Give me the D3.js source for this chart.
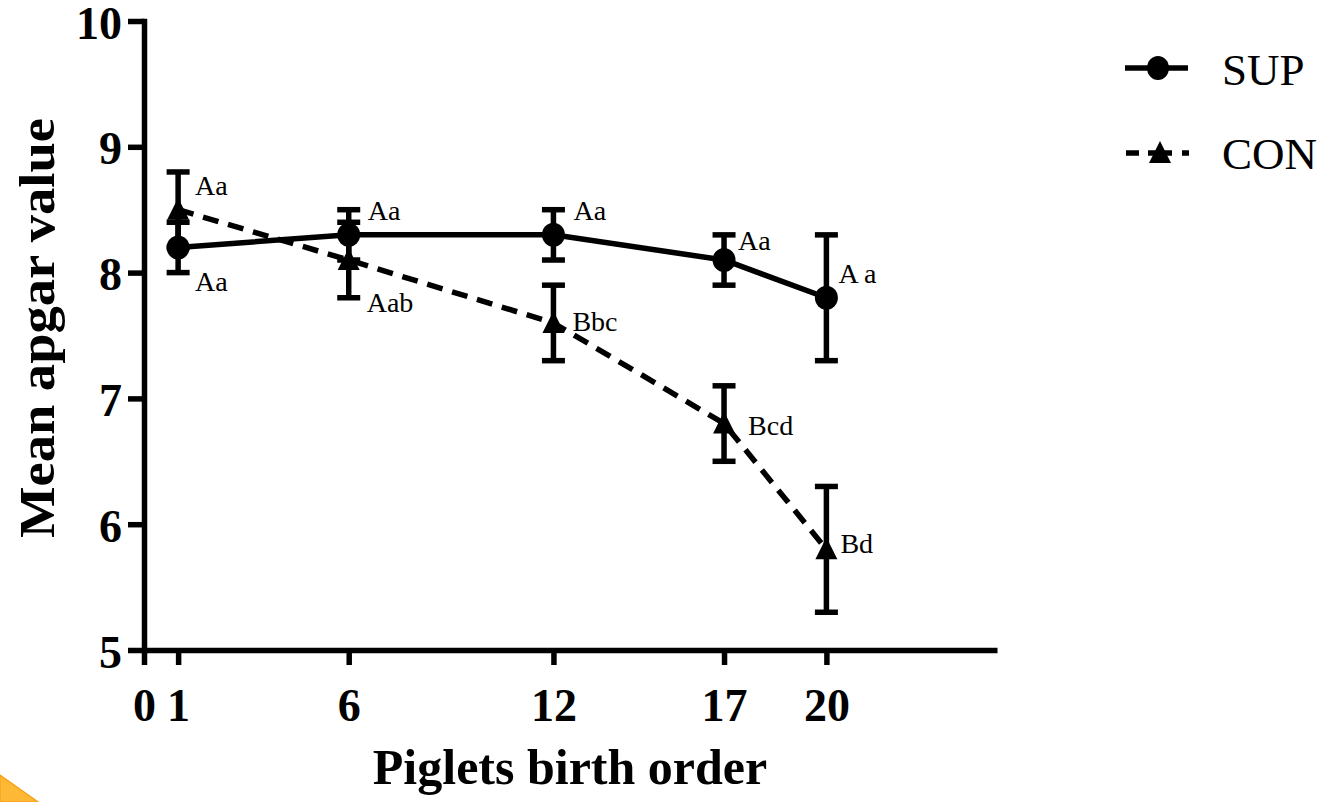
<!DOCTYPE html>
<html>
<head>
<meta charset="utf-8">
<script src="https://cdn.jsdelivr.net/npm/d3@7"></script>
<style>
  html, body { margin: 0; padding: 0; background: #fff; }
  svg { display: block; }
  text { font-family: "Liberation Serif", "Times New Roman", Times, serif; fill: #000; }
</style>
</head>
<body>
<svg id="chart" width="1322" height="802"></svg>
<script>
// Birth order positions sampled
const birthOrder = [1, 6, 12, 17, 20];

// Mean Apgar score and SD per group
const supMean = [8.2, 8.3, 8.3, 8.1, 7.8];
const supSD   = [0.2, 0.2, 0.2, 0.2, 0.5];
const conMean = [8.5, 8.1, 7.6, 6.8, 5.8];
const conSD   = [0.3, 0.3, 0.3, 0.3, 0.5];

// Significance letters
const supLetters = ["Aa", "Aa", "Aa", "Aa", "A a"];
const conLetters = ["Aa", "Aab", "Bbc", "Bcd", "Bd"];

// Axis ticks
const xTicks = [0, 1, 6, 12, 17, 20];
const yTicks = [5, 6, 7, 8, 9, 10];

const seriesNames = ["SUP", "CON"];

// Letter placement (pixel offsets from each point)
const supLabelOffset = [[17, 44], [19, -15], [20, -15], [14, -10], [12, -15]];
const conLabelOffset = [[17, -15], [18, 52], [19, 8], [24, 11], [14, 4]];

const SERIF = "'Liberation Serif', 'Times New Roman', Times, serif";

const svg = d3.select("#chart");
svg.append("rect").attr("width", 1322).attr("height", 802).attr("fill", "#fff");

const x = d3.scaleLinear().domain([0, 25]).range([144, 997]);
const y = d3.scaleLinear().domain([5, 10]).range([650, 21]);

const LW = 5.5;

// Y axis
const yAxis = svg.append("g")
  .attr("transform", `translate(${x(0)},0)`)
  .call(d3.axisLeft(y).tickValues(yTicks).tickSize(16).tickSizeOuter(0).tickPadding(6).tickFormat(d3.format("d")));
yAxis.attr("font-family", SERIF);
yAxis.select(".domain").attr("stroke", "#000").attr("stroke-width", LW).attr("stroke-linecap", "square");
yAxis.selectAll(".tick line").attr("stroke", "#000").attr("stroke-width", LW);
yAxis.selectAll(".tick text")
  .attr("font-family", SERIF).attr("dy", "0.37em")
  .attr("font-weight", "bold").attr("font-size", 46).attr("fill", "#000");

// X axis
const xAxis = svg.append("g")
  .attr("transform", `translate(0,${y(5)})`)
  .call(d3.axisBottom(x).tickValues(xTicks).tickSize(15).tickSizeOuter(0).tickPadding(23).tickFormat(d3.format("d")));
xAxis.attr("font-family", SERIF);
xAxis.select(".domain").attr("stroke", "#000").attr("stroke-width", LW);
xAxis.selectAll(".tick line").attr("stroke", "#000").attr("stroke-width", LW);
xAxis.selectAll(".tick text")
  .attr("font-family", SERIF)
  .attr("font-weight", "bold").attr("font-size", 46).attr("fill", "#000");

// Axis titles
svg.append("text")
  .attr("transform", "translate(54,328) rotate(-90)")
  .attr("text-anchor", "middle")
  .attr("font-family", SERIF)
  .attr("font-weight", "bold").attr("font-size", 50)
  .attr("textLength", 420).attr("lengthAdjust", "spacingAndGlyphs")
  .text("Mean apgar value");

svg.append("text")
  .attr("x", 570).attr("y", 784)
  .attr("text-anchor", "middle")
  .attr("font-family", SERIF)
  .attr("font-weight", "bold").attr("font-size", 50)
  .text("Piglets birth order");

const trianglePath = "M0,-12L11,10L-11,10Z";

function drawSeries(means, sds, letters, offsets, dashed, marker) {
  const pts = birthOrder.map((b, i) => ({ b, m: means[i], sd: sds[i], t: letters[i], o: offsets[i] }));
  const g = svg.append("g");

  // error bars
  const eb = g.selectAll(".eb").data(pts).join("g");
  eb.append("line")
    .attr("x1", d => x(d.b)).attr("x2", d => x(d.b))
    .attr("y1", d => y(d.m + d.sd)).attr("y2", d => y(d.m - d.sd))
    .attr("stroke", "#000").attr("stroke-width", LW);
  [1, -1].forEach(s => {
    eb.append("line")
      .attr("x1", d => x(d.b) - 11.5).attr("x2", d => x(d.b) + 11.5)
      .attr("y1", d => y(d.m + s * d.sd)).attr("y2", d => y(d.m + s * d.sd))
      .attr("stroke", "#000").attr("stroke-width", LW);
  });

  // connecting line
  g.append("path")
    .datum(pts)
    .attr("fill", "none").attr("stroke", "#000").attr("stroke-width", LW)
    .attr("stroke-dasharray", dashed ? "16,10" : null)
    .attr("d", d3.line().x(d => x(d.b)).y(d => y(d.m)));

  // markers
  if (marker === "circle") {
    g.selectAll(".mk").data(pts).join("ellipse")
      .attr("cx", d => x(d.b)).attr("cy", d => y(d.m))
      .attr("rx", 11.5).attr("ry", 12).attr("fill", "#000");
  } else {
    g.selectAll(".mk").data(pts).join("path")
      .attr("transform", d => `translate(${x(d.b)},${y(d.m)})`)
      .attr("d", trianglePath).attr("fill", "#000");
  }

  // letters
  g.selectAll(".lb").data(pts).join("text")
    .attr("x", d => x(d.b) + d.o[0]).attr("y", d => y(d.m) + d.o[1])
    .attr("font-family", SERIF)
    .attr("font-size", 28)
    .text(d => d.t);
}

drawSeries(conMean, conSD, conLetters, conLabelOffset, true, "triangle");
drawSeries(supMean, supSD, supLetters, supLabelOffset, false, "circle");

// Legend
const lg = svg.append("g");
lg.append("line").attr("x1", 1125).attr("x2", 1188).attr("y1", 68).attr("y2", 68)
  .attr("stroke", "#000").attr("stroke-width", LW);
lg.append("ellipse").attr("cx", 1158).attr("cy", 68).attr("rx", 11).attr("ry", 12).attr("fill", "#000");
lg.append("text").attr("x", 1222).attr("y", 85)
  .attr("font-family", SERIF).attr("font-size", 45).text(seriesNames[0]);

lg.append("line").attr("x1", 1126).attr("x2", 1189).attr("y1", 153).attr("y2", 153)
  .attr("stroke", "#000").attr("stroke-width", LW).attr("stroke-dasharray", "13,9,24,10,7");
lg.append("path").attr("transform", "translate(1160,153)").attr("d", trianglePath).attr("fill", "#000");
lg.append("text").attr("x", 1222).attr("y", 169)
  .attr("font-family", SERIF).attr("font-size", 45).text(seriesNames[1]);

// Corner accent
svg.append("path")
  .attr("d", "M0,775L38,802L0,802Z")
  .attr("fill", "#FDB836").attr("stroke", "#F7A51C").attr("stroke-width", 1.5);
</script>
</body>
</html>
